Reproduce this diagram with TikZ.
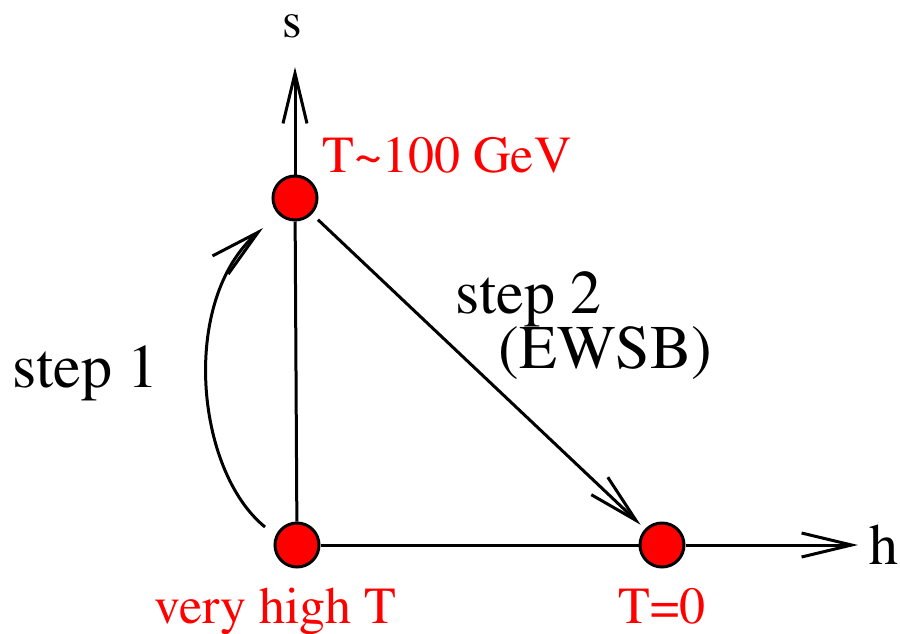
\documentclass[tikz,border=0pt]{standalone}
\usepackage[T1]{fontenc}
\usepackage{times}
\usetikzlibrary{arrows.meta}

\tikzset{
  dot/.style={circle,draw,fill=red,line width=1.5pt,minimum size=22pt,inner sep=0pt},
  barb/.style={-{Straight Barb[length=25pt,width=12pt]}},
  redlabel/.style={text=red,inner sep=0pt,anchor=base west,font=\rmfamily\fontsize{26pt}{30pt}\selectfont},
  blacklabel/.style={inner sep=0pt,anchor=base west,font=\rmfamily\fontsize{31pt}{36pt}\selectfont}
}

\begin{document}
\begin{tikzpicture}[x=0.5pt,y=-0.5pt,line width=1.5pt]
\useasboundingbox (0,0) rectangle (900,633);
\node[dot] (hot) at (297,545) {};
\node[dot] (mid) at (295,198) {};
\node[dot] (zero) at (662,545) {};
\coordinate (stip) at (295,67);
\coordinate (htip) at (858,545);
\coordinate (up) at (265,527);
\coordinate (upend) at (263,228);
\draw (hot) -- (mid);
\draw (hot) -- (zero);
\draw[barb] (mid) -- (stip);
\draw[barb] (zero) -- (htip);
\draw[barb,shorten <=4pt,shorten >=3pt] (mid) -- (zero);
\draw[barb] (up) .. controls (195,470) and (180,300) .. (upend);
\node[blacklabel,font=\rmfamily\fontsize{25pt}{30pt}\selectfont] (s) at (281,37) {s};
\node[blacklabel,font=\rmfamily\fontsize{29pt}{34pt}\selectfont] (h) at (868,564) {h};
\node[redlabel] (tmid) at (321,172) {T\textasciitilde100 GeV};
\node[redlabel] (thot) at (153,623) {very high T};
\node[redlabel] (tzero) at (617,623) {T=0};
\node[blacklabel] (step1) at (11,387) {step 1};
\node[blacklabel] (step2) at (454,313) {step 2};
\node[blacklabel] (ewsb) at (497,368) {(EWSB)};
\end{tikzpicture}
\end{document}
